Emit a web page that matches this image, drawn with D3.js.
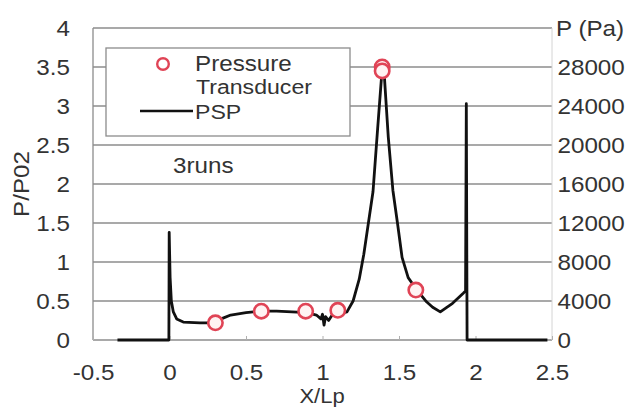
<!DOCTYPE html>
<html>
<head>
<meta charset="utf-8">
<script src="https://cdn.jsdelivr.net/npm/d3@7"></script>
<style>
  html, body { margin: 0; padding: 0; background: #fff; }
  svg text { font-family: "Liberation Sans", Arial, Helvetica, sans-serif; fill: #333; }
</style>
</head>
<body>
<svg id="chart" width="626" height="408"></svg>
<script>
// Axis ticks
const xTicks = [-0.5, 0, 0.5, 1, 1.5, 2, 2.5];
const yTicks = [0, 0.5, 1, 1.5, 2, 2.5, 3, 3.5, 4];
const paTicks = [0, 4000, 8000, 12000, 16000, 20000, 24000, 28000];

// Pressure transducer readings (X/Lp, P/P02)
const ptX = [0.30, 0.60, 0.89, 1.10, 1.39, 1.39, 1.61];
const ptY = [0.22, 0.37, 0.37, 0.38, 3.50, 3.45, 0.64];

// PSP profile, averaged over 3 runs (X/Lp, P/P02)
const pspX = [-0.34, -0.004, -0.002, 0.004, 0.012, 0.025, 0.047, 0.09, 0.2, 0.26, 0.3, 0.35, 0.4, 0.5,
  0.6, 0.7, 0.8, 0.9, 0.96, 0.99, 1.0, 1.01, 1.02, 1.04, 1.06, 1.1, 1.16, 1.2, 1.24, 1.27, 1.3, 1.33,
  1.36, 1.385, 1.395, 1.405, 1.43, 1.46, 1.49, 1.52, 1.56, 1.61, 1.68, 1.72, 1.77, 1.85, 1.92, 1.935,
  1.94, 1.945, 2.47];
const pspY = [0, 0, 1.38, 0.8, 0.5, 0.36, 0.27, 0.23, 0.22, 0.22, 0.24, 0.28, 0.32, 0.35,
  0.37, 0.37, 0.36, 0.35, 0.32, 0.27, 0.33, 0.19, 0.3, 0.25, 0.31, 0.33, 0.36, 0.5, 0.78, 1.1, 1.5, 1.9,
  2.7, 3.35, 3.44, 3.36, 2.6, 1.92, 1.5, 1.06, 0.8, 0.66, 0.49, 0.42, 0.36, 0.47, 0.6, 0.63,
  3.03, 0, 0];

const svg = d3.select("#chart");
const plotL = 93, plotR = 552, plotT = 28, plotB = 340;
const sx = 1.1; // horizontal text stretch
const fmt = d => d3.format("~g")(d).replace("\u2212", "-");

const x = d3.scaleLinear().domain([-0.5, 2.5]).range([plotL, plotR]);
const y = d3.scaleLinear().domain([0, 4]).range([plotB, plotT]);
const yPa = d3.scaleLinear().domain([0, 32000]).range([plotB, plotT]);

const gridColor = "#8c8c8c";

// horizontal gridlines
svg.append("g").selectAll("line").data(yTicks).join("line")
  .attr("x1", plotL).attr("x2", plotR)
  .attr("y1", d => y(d)).attr("y2", d => y(d))
  .attr("stroke", gridColor).attr("stroke-width", 1.3);

// frame sides
svg.append("line").attr("x1", plotL).attr("x2", plotL).attr("y1", plotT).attr("y2", plotB)
  .attr("stroke", gridColor).attr("stroke-width", 1.3);
svg.append("line").attr("x1", plotR).attr("x2", plotR).attr("y1", plotT).attr("y2", plotB)
  .attr("stroke", "#d4d4d4").attr("stroke-width", 1);

// left axis
const gy = svg.append("g").attr("transform", `translate(${plotL},0)`)
  .call(d3.axisLeft(y).tickValues(yTicks).tickSize(0).tickPadding(21).tickFormat(fmt));
gy.select(".domain").remove();
gy.selectAll("text").attr("font-size", 22).attr("transform", `scale(${sx},1)`);

// bottom axis
const gx = svg.append("g").attr("transform", `translate(0,${plotB})`)
  .call(d3.axisBottom(x).tickValues(xTicks).tickSizeInner(-4).tickSizeOuter(0).tickPadding(24)
    .tickFormat(fmt));
gx.select(".domain").remove();
gx.selectAll(".tick line").attr("stroke", "#b0b0b0");
gx.selectAll("text").attr("font-size", 22).attr("transform", `scale(${sx},1)`);

// right axis (Pa)
const gr = svg.append("g").attr("transform", `translate(${plotR},0)`)
  .call(d3.axisRight(yPa).tickValues(paTicks).tickSize(0).tickPadding(5).tickFormat(d3.format("d")));
gr.select(".domain").remove();
gr.selectAll("text").attr("font-size", 22).attr("transform", `scale(${sx},1)`);

svg.append("text").attr("transform", `translate(${plotR + 4},${plotT}) scale(${sx},1)`)
  .attr("dy", "0.35em").attr("font-size", 22).text("P (Pa)");

// axis titles
svg.append("text").attr("transform", `translate(322,403) scale(${sx},1)`)
  .attr("text-anchor", "middle").attr("font-size", 20).text("X/Lp");
svg.append("text").attr("transform", `translate(29,${(plotT + plotB) / 2}) rotate(-90) scale(${sx},1)`)
  .attr("text-anchor", "middle").attr("font-size", 22).text("P/P02");

// legend box
svg.append("rect").attr("x", 106).attr("y", 48).attr("width", 244).attr("height", 88)
  .attr("fill", "#fff").attr("stroke", gridColor).attr("stroke-width", 1.3);

// PSP line
const pspData = pspX.map((d, i) => [d, pspY[i]]);
svg.append("path").datum(pspData)
  .attr("d", d3.line().x(d => x(d[0])).y(d => y(d[1])))
  .attr("fill", "none").attr("stroke", "#111").attr("stroke-width", 2.8)
  .attr("stroke-linejoin", "round");

// transducer markers
svg.append("g").selectAll("circle").data(ptX.map((d, i) => [d, ptY[i]])).join("circle")
  .attr("cx", d => x(d[0])).attr("cy", d => y(d[1])).attr("r", 7.2)
  .attr("fill", "#fff3f3").attr("stroke", "#e04456").attr("stroke-width", 2.6);

// legend entries
svg.append("circle").attr("cx", 163).attr("cy", 64).attr("r", 5.8)
  .attr("fill", "#fff").attr("stroke", "#e04456").attr("stroke-width", 2.4);
svg.append("text").attr("transform", `translate(195,71) scale(${sx},1)`)
  .attr("font-size", 22).text("Pressure");
svg.append("text").attr("transform", `translate(196,94) scale(${sx},1)`)
  .attr("font-size", 21).text("Transducer");
svg.append("line").attr("x1", 140).attr("x2", 193).attr("y1", 111).attr("y2", 111)
  .attr("stroke", "#111").attr("stroke-width", 2.4);
svg.append("text").attr("transform", `translate(195,119) scale(${sx},1)`)
  .attr("font-size", 21).text("PSP");

svg.append("text").attr("transform", `translate(173,173) scale(${sx},1)`)
  .attr("font-size", 22).text("3runs");
</script>
</body>
</html>
